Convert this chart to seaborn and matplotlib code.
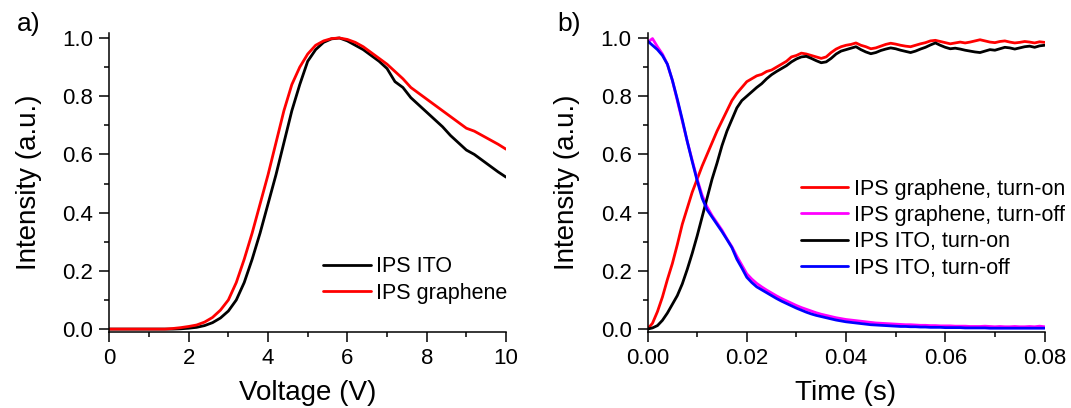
import numpy as np
import pandas as pd
import matplotlib
matplotlib.use("Agg")
import matplotlib.pyplot as plt
from matplotlib.ticker import AutoMinorLocator
import seaborn as sns

# ---- panel a) : intensity vs voltage ----
voltage = np.round(np.arange(0, 10.01, 0.2), 1)
ito_v = [0.0, 0.0, 0.0, 0.0, 0.0, 0.0, 0.0, 0.0, 0.0, 0.001,
         0.003, 0.006, 0.012, 0.022, 0.038, 0.062, 0.10, 0.16, 0.24, 0.33,
         0.43, 0.53, 0.64, 0.75, 0.84, 0.92, 0.96, 0.985, 0.997, 1.0,
         0.99, 0.975, 0.96, 0.94, 0.92, 0.895, 0.85, 0.83, 0.795, 0.77,
         0.745, 0.72, 0.695, 0.665, 0.64, 0.615, 0.60, 0.58, 0.56, 0.54,
         0.522]
graphene_v = [0.0, 0.0, 0.0, 0.0, 0.0, 0.0, 0.0, 0.0, 0.002, 0.005,
              0.009, 0.014, 0.024, 0.04, 0.065, 0.10, 0.16, 0.24, 0.33, 0.43,
              0.53, 0.64, 0.75, 0.84, 0.90, 0.945, 0.975, 0.99, 0.998, 1.0,
              0.995, 0.985, 0.97, 0.95, 0.93, 0.91, 0.885, 0.86, 0.83, 0.81,
              0.79, 0.77, 0.75, 0.73, 0.71, 0.69, 0.68, 0.665, 0.65, 0.635,
              0.618]

# ---- panel b) : switching transients ----
time_s = np.round(np.arange(0, 0.0805, 0.001), 3)
graphene_on = [0.0, 0.02, 0.06, 0.11, 0.17, 0.225, 0.29, 0.36, 0.415, 0.47,
               0.515, 0.56, 0.60, 0.64, 0.68, 0.715, 0.75, 0.785, 0.81, 0.83,
               0.85, 0.86, 0.87, 0.875, 0.885, 0.89, 0.90, 0.91, 0.92, 0.935,
               0.94, 0.948, 0.945, 0.94, 0.935, 0.93, 0.935, 0.95, 0.962, 0.97,
               0.975, 0.978, 0.983, 0.975, 0.97, 0.963, 0.966, 0.972, 0.978, 0.982,
               0.979, 0.975, 0.972, 0.97, 0.975, 0.98, 0.984, 0.99, 0.992, 0.988,
               0.984, 0.98, 0.983, 0.986, 0.983, 0.986, 0.99, 0.994, 0.99, 0.986,
               0.984, 0.988, 0.99, 0.986, 0.983, 0.985, 0.988, 0.986, 0.983, 0.987,
               0.985]
graphene_off = [0.985, 0.998, 0.97, 0.945, 0.91, 0.855, 0.785, 0.715, 0.645, 0.58,
                0.515, 0.46, 0.42, 0.39, 0.365, 0.34, 0.31, 0.283, 0.25, 0.22,
                0.19, 0.172, 0.157, 0.145, 0.134, 0.124, 0.114, 0.105, 0.097, 0.089,
                0.081, 0.074, 0.068, 0.062, 0.056, 0.051, 0.047, 0.043, 0.039, 0.036,
                0.033, 0.031, 0.029, 0.027, 0.025, 0.023, 0.021, 0.02, 0.019, 0.018,
                0.017, 0.016, 0.015, 0.015, 0.014, 0.013, 0.013, 0.012, 0.012, 0.011,
                0.011, 0.011, 0.010, 0.010, 0.010, 0.009, 0.009, 0.009, 0.010, 0.009,
                0.008, 0.009, 0.008, 0.008, 0.009, 0.008, 0.008, 0.009, 0.008, 0.010,
                0.008]
ito_on = [0.0, 0.004, 0.012, 0.03, 0.055, 0.085, 0.115, 0.155, 0.205, 0.26,
          0.32, 0.385, 0.45, 0.515, 0.57, 0.63, 0.68, 0.72, 0.76, 0.785,
          0.80, 0.815, 0.83, 0.843, 0.86, 0.874, 0.885, 0.895, 0.905, 0.918,
          0.928, 0.935, 0.937, 0.93, 0.922, 0.915, 0.918, 0.93, 0.945, 0.955,
          0.96, 0.965, 0.97, 0.96, 0.952, 0.946, 0.95, 0.957, 0.962, 0.966,
          0.963, 0.958, 0.954, 0.95, 0.955, 0.962, 0.968, 0.976, 0.983, 0.975,
          0.968, 0.963, 0.965, 0.962, 0.958, 0.955, 0.952, 0.95, 0.955, 0.96,
          0.958, 0.963, 0.968, 0.966, 0.962, 0.966, 0.97, 0.972, 0.968, 0.973,
          0.975]
ito_off = [0.99, 0.975, 0.96, 0.94, 0.91, 0.855, 0.79, 0.72, 0.645, 0.576,
           0.51, 0.45, 0.41, 0.385, 0.36, 0.335, 0.308, 0.28, 0.24, 0.21,
           0.178, 0.16, 0.145, 0.135, 0.125, 0.115, 0.105, 0.096, 0.088, 0.08,
           0.072, 0.065, 0.058, 0.052, 0.047, 0.043, 0.039, 0.035, 0.031, 0.028,
           0.025, 0.023, 0.021, 0.019, 0.017, 0.015, 0.014, 0.013, 0.012, 0.011,
           0.010, 0.009, 0.009, 0.008, 0.008, 0.007, 0.007, 0.006, 0.006, 0.006,
           0.005, 0.005, 0.005, 0.005, 0.004, 0.004, 0.004, 0.004, 0.004, 0.003,
           0.003, 0.003, 0.003, 0.003, 0.003, 0.003, 0.003, 0.003, 0.003, 0.003,
           0.003]

sns.set_style("ticks")
plt.rcParams['font.family'] = ['Liberation Sans', 'DejaVu Sans']
plt.rcParams['text.color'] = 'black'
plt.rcParams['axes.labelcolor'] = 'black'
plt.rcParams['axes.edgecolor'] = 'black'
plt.rcParams['xtick.color'] = 'black'
plt.rcParams['ytick.color'] = 'black'
plt.rcParams['axes.linewidth'] = 1.1
for k in ['xtick.major.width', 'ytick.major.width', 'xtick.minor.width', 'ytick.minor.width']:
    plt.rcParams[k] = 1.1

TICK_FS = 16
LABEL_FS = 20
LW = 2.0

fig = plt.figure(figsize=(10.71, 4.08), dpi=100)
ax1 = fig.add_axes([0.1021, 0.187, 0.3704, 0.732])
ax2 = fig.add_axes([0.6046, 0.187, 0.3707, 0.732])

df_a = pd.DataFrame({'Voltage': np.concatenate([voltage, voltage]),
                     'Intensity': ito_v + graphene_v,
                     'Sample': ['IPS ITO'] * len(voltage) + ['IPS graphene'] * len(voltage)})
sns.lineplot(data=df_a, x='Voltage', y='Intensity', hue='Sample',
             palette={'IPS ITO': 'black', 'IPS graphene': '#ff0000'},
             linewidth=LW, ax=ax1)

series_b = {
    'IPS graphene, turn-on': (graphene_on, '#ff0000'),
    'IPS graphene, turn-off': (graphene_off, '#ff00ff'),
    'IPS ITO, turn-on': (ito_on, 'black'),
    'IPS ITO, turn-off': (ito_off, '#0000ff'),
}
for name, (vals, col) in series_b.items():
    sns.lineplot(x=time_s, y=vals, color=col, linewidth=LW, label=name, ax=ax2)

for ax in (ax1, ax2):
    sns.despine(ax=ax)
    ax.set_ylim(-0.009, 1.017)
    ax.set_yticks([0.0, 0.2, 0.4, 0.6, 0.8, 1.0])
    ax.xaxis.set_minor_locator(AutoMinorLocator(2))
    ax.yaxis.set_minor_locator(AutoMinorLocator(2))
    ax.tick_params(which='major', direction='out', length=7, pad=4.5, labelsize=TICK_FS)
    ax.tick_params(which='minor', direction='out', length=3.5)
    ax.set_ylabel('Intensity (a.u.)', fontsize=LABEL_FS, labelpad=15)
    ax.grid(False)

ax1.set_xlim(0, 10)
ax1.set_xticks([0, 2, 4, 6, 8, 10])
ax1.set_xlabel('Voltage (V)', fontsize=LABEL_FS, labelpad=8)

ax2.set_xlim(0, 0.08)
ax2.set_xticks([0.0, 0.02, 0.04, 0.06, 0.08])
ax2.set_xlabel('Time (s)', fontsize=LABEL_FS, labelpad=8)

leg_kw = dict(frameon=False, fontsize=15.5, handlelength=2.2, handletextpad=0.25,
              labelspacing=0.25, borderpad=0, borderaxespad=0, loc='center left')
ax1.legend(title=None, bbox_to_anchor=(0.539, 0.173), **leg_kw)
ax2.legend(bbox_to_anchor=(0.386, 0.345), **leg_kw)

fig.text(0.016, 0.924, 'a)', fontsize=19, va='baseline')
fig.text(0.52, 0.924, 'b)', fontsize=19, va='baseline')

fig.savefig('out.png', dpi=100)
